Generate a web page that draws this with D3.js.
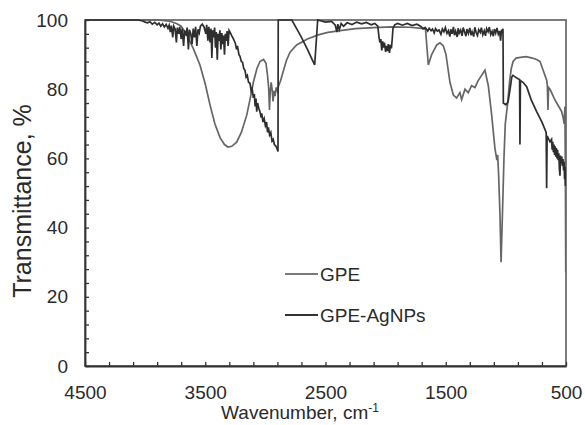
<!DOCTYPE html>
<html>
<head>
<meta charset="utf-8">
<script src="https://cdn.jsdelivr.net/npm/d3@7"></script>
<style>
  body { margin: 0; background: #fff; }
  text { font-family: "Liberation Sans", Arial, sans-serif; fill: #2a2a2a; }
</style>
</head>
<body>
<svg id="chart" width="585" height="425"></svg>
<script>
// series names
var seriesNames = ["GPE", "GPE-AgNPs"];

// GPE spectrum, [wavenumber cm-1, transmittance %]
var gpeData = [
  [4500,100],[3900,100],[3800,99.7],[3740,99],[3700,98.2],[3654,95.7],[3600,91.8],[3544,87],
  [3500,81.5],[3460,75.4],[3420,70],[3377,66],[3340,64],[3311,63.3],[3280,63.5],[3239,64.7],
  [3200,67.5],[3155,72.5],[3125,77.5],[3100,82],[3070,86],[3045,88],[3015,88.6],[2995,87.5],
  [2982,84],[2972,80],[2966,74],[2960,79],[2952,82],[2944,80],[2936,76.5],[2928,79.5],[2920,78],
  [2910,80.5],[2900,79.5],[2890,81],[2875,82.3],[2853,85],[2825,88.3],[2795,90.7],[2740,92.8],
  [2650,94.5],[2560,95.7],[2480,96.4],[2363,97],[2250,97.5],[2100,97.8],[1950,98],[1800,97.9],
  [1700,97.6],[1668,97.3],[1645,87],[1617,90],[1575,92.8],[1548,93.4],[1520,92.5],[1498,90],
  [1465,82],[1437,78.3],[1410,77.5],[1382,79],[1368,77],[1340,80],[1313,79],[1285,81],[1257,80.5],
  [1230,82.5],[1202,84],[1174,85.5],[1146,81],[1118,72.5],[1091,62.9],[1075,59.5],[1068,61],
  [1060,55],[1049,43.7],[1040,30],[1030,42],[1016,60],[1005,70],[985,76],[970,82],[955,86],
  [940,88],[915,89],[880,89.2],[830,89.4],[780,89],[740,88.5],[716,88],[690,85.5],[660,82.5],
  [655,81],[650,74],[645,80.5],[633,80],[600,77.5],[577,76],[536,73.5],[525,72],[515,70],
  [509,75],[505,55],[502,27],[500,30]
];

// GPE-AgNPs spectrum, [wavenumber cm-1, transmittance %]
var agnpData = [
  [4500,100],[4060,100],[4020,99.7],[4000,99.4],[3980,99.2],[3960,99.5],[3940,98.8],[3920,99.3],
  [3900,98.6],[3885,99.1],[3870,98.2],[3855,98.9],[3840,98],[3825,98.7],[3810,97.6],[3800,98.5],
  [3790,96.5],[3782,98.4],[3770,95],[3762,98.2],[3750,97.3],[3740,93.5],[3732,97.8],[3720,96],
  [3712,98],[3700,94.5],[3692,97.5],[3680,92.5],[3672,97],[3660,95.5],[3650,97.8],[3640,91.5],
  [3632,97.2],[3620,96],[3610,93],[3600,97.5],[3590,95],[3580,98],[3570,92.5],[3560,97.3],
  [3550,96.3],[3540,98.2],[3525,98.8],[3510,98],[3495,96],[3488,98.6],[3478,94],[3470,98],
  [3460,93.5],[3452,97.5],[3445,89],[3438,97],[3430,95],[3422,97.8],[3415,92],[3408,96.5],
  [3400,88.5],[3393,96],[3385,94],[3378,97],[3370,91.5],[3362,96.2],[3355,93],[3348,95.5],
  [3340,90],[3333,96],[3325,94],[3318,96.8],[3310,92.5],[3302,97],[3294,96.5],[3280,95.5],
  [3265,94.5],[3250,93.3],[3240,91.5],[3232,92.5],[3220,90],[3211,89.5],[3200,88],[3190,87.8],
  [3180,86],[3170,85.5],[3160,83.5],[3150,84],[3140,82],[3128,81.7],[3118,79.5],[3110,80.2],
  [3100,77.5],[3092,78.6],[3085,75],[3078,77.3],[3072,73.5],[3065,76],[3055,74.5],[3045,73.5],
  [3035,71.8],[3030,73],[3020,70.5],[3010,71.5],[3000,69.5],[2990,70.5],[2982,67.5],[2975,69],
  [2965,66.8],[2955,67.5],[2945,65],[2935,65.5],[2925,64],[2912,63.5],[2900,62.5],[2895,62],
  [2893,100],[2780,100],[2740,97.5],[2700,95],[2650,91.5],[2610,88.5],[2590,87],[2565,100],
  [2500,99.4],[2450,99.6],[2420,98.6],[2405,96.5],[2398,98.8],[2385,97.2],[2370,99],[2350,98.2],
  [2320,99.2],[2280,98.7],[2240,99.4],[2200,98.9],[2160,99.3],[2120,98.6],[2090,99],[2065,98.2],
  [2055,95],[2047,93.5],[2040,94.5],[2032,91.2],[2025,93.8],[2018,92],[2010,93.5],[2000,90.8],
  [1993,92.5],[1985,91],[1977,93],[1968,90.5],[1960,92.8],[1952,91.8],[1945,94.5],[1939,97.5],
  [1925,98.6],[1900,99],[1860,98.5],[1820,99],[1780,98.4],[1740,98.8],[1710,98.2],[1690,97.5],
  [1670,97.8],[1650,96.8],[1638,97.6],[1622,96.9],[1610,97.4],[1596,96.3],[1585,97.5],[1570,96.8],
  [1556,97.1],[1540,95.9],[1528,97.4],[1515,96.6],[1503,97.8],[1490,96.1],[1478,96.9],[1466,95.2],
  [1458,97.3],[1447,96],[1436,98],[1428,95.6],[1418,96.8],[1405,95.1],[1397,97.6],[1388,96.2],
  [1376,97.1],[1364,95.4],[1355,97.8],[1343,96.5],[1332,95.3],[1324,97.4],[1312,96.1],[1300,97.7],
  [1290,95.6],[1281,96.6],[1268,95.2],[1258,97.9],[1247,96.3],[1236,95.5],[1226,97.2],[1213,96.4],
  [1204,97.8],[1192,95.7],[1180,96.9],[1170,95.4],[1160,97.5],[1148,96.6],[1138,97.9],[1126,95.8],
  [1115,96.7],[1104,95.3],[1096,97.4],[1085,96.2],[1074,97.7],[1063,95.9],[1052,96.8],[1044,94],
  [1036,97.2],[1028,96.5],[1024,97.5],[1021,76],[1000,75.5],[982,76.3],[965,80],[951,83.5],[941,84],
  [920,83.5],[899,83],[886,82.8],[883,64],[879,82.5],[858,82],[827,80.7],[790,77],[744,73.5],
  [700,70.5],[665,67.5],[661,51.4],[657,66.5],[633,64.8],[620,65.5],[615,62.5],[610,64.8],
  [605,61.8],[600,64],[595,61],[590,63.5],[585,60.5],[580,63],[575,60],[570,62.5],[565,59.5],
  [560,61.5],[555,57],[550,55],[546,60.8],[540,58.5],[535,60.5],[530,57.8],[525,59.8],[520,56.5],
  [516,59],[512,54],[508,57.5],[505,52],[502,56],[500,53]
];

// ticks
var xTicks = d3.range(4500, 499, -200);
var xLabels = [4500, 3500, 2500, 1500, 500];
var yTicks = d3.range(0, 101, 4);
var yLabels = [0, 20, 40, 60, 80, 100];

var svg = d3.select("#chart");
var plotLeft = 85, plotRight = 566, plotTop = 20, plotBottom = 366;

var x = d3.scaleLinear().domain([4500, 500]).range([plotLeft, plotRight]);
var y = d3.scaleLinear().domain([0, 100]).range([plotBottom, plotTop]);

svg.append("clipPath").attr("id", "clip")
  .append("rect").attr("x", plotLeft).attr("y", plotTop - 1)
  .attr("width", plotRight - plotLeft).attr("height", plotBottom - plotTop + 1);

// frame (top / right)
svg.append("rect")
  .attr("x", plotLeft).attr("y", plotTop)
  .attr("width", plotRight - plotLeft).attr("height", plotBottom - plotTop)
  .style("fill", "none").style("stroke", "#6e6e6e").style("stroke-width", 1.8);

var line = d3.line()
  .x(function(d) { return x(d[0]); })
  .y(function(d) { return y(d[1]); });

var g = svg.append("g").attr("clip-path", "url(#clip)");

g.append("path").datum(gpeData)
  .attr("d", line)
  .style("fill", "none").style("stroke", "#666").style("stroke-width", 1.7);

g.append("path").datum(agnpData)
  .attr("d", line)
  .style("fill", "none").style("stroke", "#2e2e2e").style("stroke-width", 1.7);

// axes
var xAxis = d3.axisBottom(x)
  .tickValues(xTicks)
  .tickSizeInner(-4).tickSizeOuter(0).tickPadding(20)
  .tickFormat(function(d) { return xLabels.indexOf(d) >= 0 ? d : ""; });

var yAxis = d3.axisLeft(y)
  .tickValues(yTicks)
  .tickSizeInner(-4).tickSizeOuter(0).tickPadding(17)
  .tickFormat(function(d) { return yLabels.indexOf(d) >= 0 ? d : ""; });

var gx = svg.append("g").attr("transform", "translate(0," + plotBottom + ")").call(xAxis);
var gy = svg.append("g").attr("transform", "translate(" + plotLeft + ",0)").call(yAxis);

[gx, gy].forEach(function(a) {
  a.select(".domain").style("stroke", "#333").style("stroke-width", 1.8);
  a.selectAll(".tick line").style("stroke", "#333").style("stroke-width", 1.3);
  a.selectAll(".tick text").style("font-size", "19px").style("font-family", "Liberation Sans, Arial, sans-serif").style("fill", "#2a2a2a");
});

// axis titles
var xt = svg.append("text")
  .attr("x", 300).attr("y", 419)
  .attr("text-anchor", "middle")
  .style("font-size", "19px");
xt.append("tspan").text("Wavenumber, cm");
xt.append("tspan").attr("dy", -7).style("font-size", "12px").text("-1");

svg.append("text")
  .attr("transform", "translate(31,201) rotate(-90)")
  .attr("text-anchor", "middle")
  .style("font-size", "25px")
  .text("Transmittance, %");

// legend
var legendColors = ["#7a7a7a", "#333"];
var legendY = [274, 315];
seriesNames.forEach(function(name, i) {
  svg.append("line")
    .attr("x1", 285).attr("x2", 318)
    .attr("y1", legendY[i]).attr("y2", legendY[i])
    .style("stroke", legendColors[i]).style("stroke-width", 1.8);
  svg.append("text")
    .attr("x", 320).attr("y", legendY[i] + 7)
    .style("font-size", "19px")
    .text(name);
});
</script>
</body>
</html>
